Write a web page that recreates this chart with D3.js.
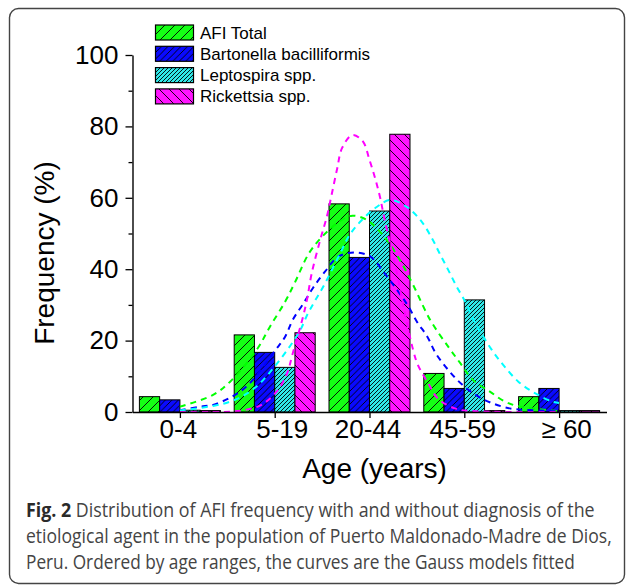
<!DOCTYPE html>
<html>
<head>
<meta charset="utf-8">
<script src="https://cdn.jsdelivr.net/npm/d3@7"></script>
<style>
body { margin: 0; background: #fff; }
svg { display: block; }
</style>
</head>
<body>
<div id="chart"></div>
<script>
// age groups and the four series (frequency in %)
var categories = ["0-4", "5-19", "20-44", "45-59", "\u2265 60"];
var seriesNames = ["AFI Total", "Bartonella bacilliformis", "Leptospira spp.", "Rickettsia spp."];
var afiTotal   = [4.3, 21.6, 58.3, 10.8, 4.3];
var bartonella = [3.4, 16.7, 43.3, 6.6, 6.6];
var leptospira = [0.5, 12.5, 56.3, 31.4, 0.4];
var rickettsia = [0.4, 22.2, 77.8, 0.4, 0.4];
var yTicks = [0, 20, 40, 60, 80, 100];
var yMinorTicks = [10, 30, 50, 70, 90];

// fitted Gauss curves: [age group position, %]
var afiCurve = [[1.00,1.5],[1.35,4.8],[1.53,8.5],[1.81,17.4],[1.95,23.9],[2.11,30.9],[2.21,36.1],[2.36,44.4],[2.50,49.1],[2.69,53.5],[2.82,55.0],[2.97,53.8],[3.14,49.6],[3.32,42.6],[3.46,35.6],[3.64,25.8],[3.83,18.3],[3.96,13.6],[4.09,9.0],[4.27,5.7],[4.43,2.9],[4.59,1.5],[4.98,0.3]];
var bartonellaCurve = [[1.00,0.5],[1.21,1.5],[1.35,2.0],[1.55,4.3],[1.72,7.6],[2.01,17.4],[2.11,21.1],[2.19,25.8],[2.30,30.3],[2.40,34.6],[2.53,39.3],[2.67,43.5],[2.85,44.7],[3.01,43.5],[3.16,38.8],[3.29,34.2],[3.40,30.0],[3.50,25.3],[3.61,21.1],[3.70,16.4],[3.83,11.8],[3.98,7.6],[4.15,4.3],[4.32,2.2],[4.50,0.9],[4.66,0.6],[4.98,0.2]];
var leptospiraCurve = [[1.00,0.4],[1.35,1.7],[1.53,2.9],[1.71,5.2],[1.88,9.0],[2.25,22.0],[2.35,27.6],[2.42,30.9],[2.53,36.0],[2.69,44.4],[2.79,49.6],[2.92,53.8],[3.08,57.5],[3.22,59.4],[3.40,57.3],[3.55,53.3],[3.66,48.6],[3.74,44.4],[3.83,39.8],[3.92,35.1],[4.01,30.9],[4.09,26.2],[4.18,22.0],[4.29,17.4],[4.41,13.2],[4.57,8.5],[4.75,5.2],[4.93,2.9],[5.00,2.5]];
var rickettsiaCurve = [[1.00,0.0],[1.53,0.1],[1.69,0.6],[1.86,2.0],[2.02,5.7],[2.13,10.8],[2.19,16.4],[2.29,25.8],[2.34,31.4],[2.39,38.8],[2.48,48.2],[2.55,54.7],[2.60,60.8],[2.66,68.3],[2.71,73.9],[2.82,77.6],[2.93,75.8],[3.00,70.6],[3.06,65.4],[3.11,60.3],[3.16,53.8],[3.28,40.0],[3.37,28.0],[3.46,17.4],[3.51,13.2],[3.62,8.0],[3.72,3.8],[3.90,1.0],[4.06,0.3],[4.98,0.0]];

var captionLines = [
  ["Fig. 2", " Distribution of AFI frequency with and without diagnosis of the"],
  ["", "etiological agent in the population of Puerto Maldonado-Madre de Dios,"],
  ["", "Peru. Ordered by age ranges, the curves are the Gauss models fitted"]
];

var values = [afiTotal, bartonella, leptospira, rickettsia];
var curves = [afiCurve, bartonellaCurve, leptospiraCurve, rickettsiaCurve];
var fills = ["#14ff14", "#0a0aff", "#30e8e8", "#ff14ff"];
var lineColors = ["#00ff00", "#0000ff", "#00ffff", "#ff00ff"];
var hatch = [{size: 10, dir: 1}, {size: 6.5, dir: 1}, {size: 4, dir: 1}, {size: 10, dir: -1}];

var W = 627, H = 586;
var axisFont = "'Liberation Sans', Arial, sans-serif";

var svg = d3.select("#chart").append("svg")
    .attr("width", W)
    .attr("height", H);

svg.append("rect").attr("width", W).attr("height", H).attr("fill", "#fff");

// outer frame
svg.append("rect")
    .attr("x", 9.5).attr("y", 8.5)
    .attr("width", 615).attr("height", 575)
    .attr("rx", 9)
    .attr("fill", "none")
    .attr("stroke", "#444")
    .attr("stroke-width", 1.4);

// hatch patterns
var defs = svg.append("defs");
hatch.forEach(function(h, i) {
  var s = h.size;
  var p = defs.append("pattern")
      .attr("id", "hatch" + i)
      .attr("patternUnits", "userSpaceOnUse")
      .attr("width", s).attr("height", s);
  p.append("rect").attr("width", s).attr("height", s).attr("fill", fills[i]);
  var d = h.dir > 0
    ? "M0," + s + "L" + s + ",0M-1,1L1,-1M" + (s - 1) + "," + (s + 1) + "L" + (s + 1) + "," + (s - 1)
    : "M0,0L" + s + "," + s + "M-1," + (s - 1) + "L1," + (s + 1) + "M" + (s - 1) + ",-1L" + (s + 1) + ",1";
  p.append("path").attr("d", d).attr("stroke", "#000").attr("stroke-width", 0.9);
});

// scales
var x = d3.scaleLinear().domain([0.5, 5.5]).range([132.5, 606.5]);
var y = d3.scaleLinear().domain([0, 100]).range([412, 55]);
var inner = d3.scaleBand().domain(seriesNames).range([-40.5, 40.5]);

// bars
var series = svg.append("g");
values.forEach(function(vals, si) {
  series.selectAll(".bar" + si)
      .data(vals)
    .enter().append("rect")
      .attr("x", function(d, i) { return x(i + 1) + inner(seriesNames[si]); })
      .attr("width", inner.bandwidth())
      .attr("y", function(d) { return y(d); })
      .attr("height", function(d) { return y(0) - y(d); })
      .attr("fill", "url(#hatch" + si + ")")
      .attr("stroke", "#000")
      .attr("stroke-width", 1);
});

// Gauss curves
var line = d3.line()
    .x(function(d) { return x(d[0]); })
    .y(function(d) { return y(d[1]); })
    .curve(d3.curveCatmullRom);
curves.forEach(function(c, i) {
  svg.append("path")
      .attr("d", line(c))
      .attr("fill", "none")
      .attr("stroke", lineColors[i])
      .attr("stroke-width", 2)
      .attr("stroke-dasharray", "6,5");
});

// axes
var xAxis = d3.axisBottom(x)
    .tickValues([1, 2, 3, 4, 5])
    .tickFormat(function(d) { return categories[d - 1]; })
    .tickSize(6).tickSizeOuter(0).tickPadding(1.5);
var gx = svg.append("g")
    .attr("transform", "translate(0," + y(0) + ")")
    .call(xAxis);
gx.attr("font-family", axisFont).attr("font-size", 26);
gx.selectAll("text")
    .attr("fill", "#000")
    .attr("dx", function(d) { return (d === 2 || d === 5) ? 7 : -2; });
gx.select(".domain").attr("stroke-width", 1.4);
gx.selectAll(".tick line").attr("stroke-width", 1.3);

var yAxis = d3.axisLeft(y).tickValues(yTicks).tickSize(7).tickSizeOuter(0).tickPadding(7);
var gy = svg.append("g")
    .attr("transform", "translate(" + x(0.5) + ",0)")
    .call(yAxis);
gy.attr("font-family", axisFont).attr("font-size", 26);
gy.selectAll("text").attr("fill", "#000");
gy.select(".domain").attr("stroke-width", 1.4);
gy.selectAll(".tick line").attr("stroke-width", 1.3);

var gyMinor = svg.append("g")
    .attr("transform", "translate(" + x(0.5) + ",0)")
    .call(d3.axisLeft(y).tickValues(yMinorTicks).tickSize(4).tickFormat(""));
gyMinor.select(".domain").remove();
gyMinor.selectAll(".tick line").attr("stroke-width", 1.3);

// axis titles
svg.append("text")
    .attr("transform", "translate(54,253) rotate(-90)")
    .attr("text-anchor", "middle")
    .attr("font-family", axisFont)
    .attr("font-size", 28)
    .text("Frequency (%)");

svg.append("text")
    .attr("x", 374.5).attr("y", 478)
    .attr("text-anchor", "middle")
    .attr("font-family", axisFont)
    .attr("font-size", 28)
    .text("Age (years)");

// legend
var legend = svg.append("g").attr("font-family", axisFont).attr("font-size", 17);
seriesNames.forEach(function(name, i) {
  var ly = 25 + i * 21.3;
  legend.append("rect")
      .attr("x", 155.5).attr("y", ly)
      .attr("width", 38).attr("height", 15)
      .attr("fill", "url(#hatch" + i + ")")
      .attr("stroke", "#000").attr("stroke-width", 1.2);
  legend.append("text")
      .attr("x", 200).attr("y", ly + 13.5)
      .text(name);
});

// caption, squeezed horizontally to the width of the original lines
var capLengths = [569, 586, 549];
captionLines.forEach(function(parts, i) {
  var t = svg.append("text")
      .attr("font-family", "'Open Sans', sans-serif")
      .attr("font-size", 19.5)
      .attr("fill", "#444");
  if (parts[0]) {
    t.append("tspan").attr("font-weight", "bold").attr("fill", "#2a2a2a").text(parts[0]);
  }
  t.append("tspan").text(parts[1]);
  var natural = t.node().getComputedTextLength();
  var k = capLengths[i] / natural;
  t.attr("transform", "translate(26," + (517 + i * 26) + ") scale(" + k + ",1)");
});
</script>
</body>
</html>
